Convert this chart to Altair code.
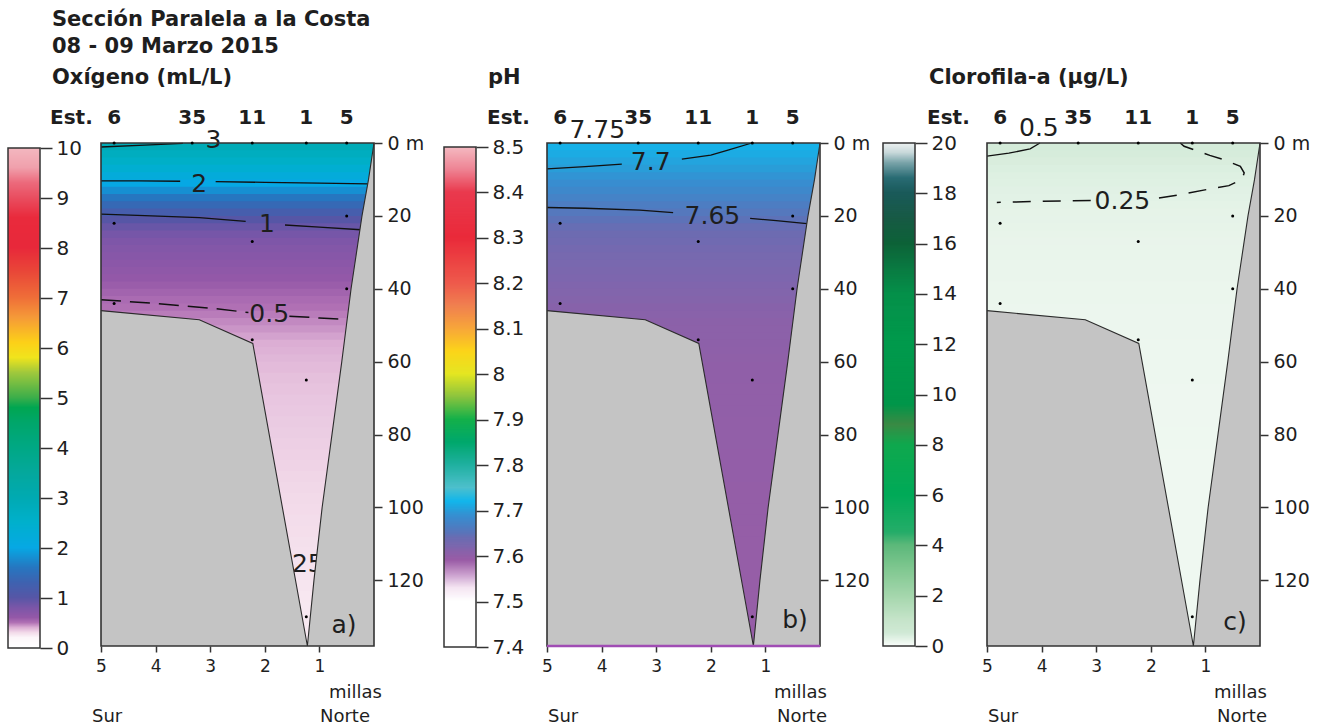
import altair as alt
import pandas as pd

FONT = "DejaVu Sans"
INK = "#1e1e1e"

# ---------------- texts ----------------
TITLE_LINES = ["Sección Paralela a la Costa", "08 - 09 Marzo 2015"]
VAR_NAMES = ["Oxígeno (mL/L)", "pH", "Clorofila-a (µg/L)"]
PANEL_TAGS = ["a)", "b)", "c)"]
EST_LABEL = "Est."
UNIT_NOTE = "millas"
SOUTH = "Sur"
NORTH = "Norte"

# ---------------- stations / samples ----------------
STATIONS = ["6", "35", "11", "1", "5"]
STATION_MILES = [4.76, 3.33, 2.23, 1.24, 0.5]
SAMPLE_STATION = ["6", "6", "6", "35", "11", "11", "11", "1", "1", "1", "5", "5", "5"]
SAMPLE_DEPTH = [0, 22, 44, 0, 0, 27, 54, 0, 65, 130, 0, 20, 40]

MILE_TICKS = [5, 4, 3, 2, 1]
DEPTH_TICKS = [0, 20, 40, 60, 80, 100, 120]
MAX_DEPTH = 138
MAX_MILE = 5

# sea floor profile (miles, depth m)
BOTTOM_MILES = [5, 3.2, 2.22, 1.22, 1.1, 0.95, 0.77, 0.59, 0.42, 0.22, 0.1, 0]
BOTTOM_DEPTH = [46, 48.5, 55, 138, 120, 100, 80, 60, 40, 20, 10, 0]

# ---------------- field bands (depth edges, values read per band) ----------------
BAND_EDGES = [0, 2, 4, 6, 8, 10, 12, 14, 16, 18, 20, 22, 24, 26, 28, 30, 32, 34, 36, 38,
              40, 42, 44, 46, 48, 50, 52, 54, 56, 58, 60, 63, 66, 69, 72, 75, 78, 81, 84,
              87, 90, 93, 96, 99, 102, 105, 108, 111, 114, 117, 120, 123, 126, 129, 132,
              135, 138]
OXY_BANDS = [2.9, 2.75, 2.6, 2.4, 2.2, 2.0, 1.8, 1.6, 1.4, 1.2, 1.0, 0.9, 0.82, 0.77, 0.73,
             0.7, 0.67, 0.64, 0.61, 0.58, 0.55, 0.52, 0.5, 0.48, 0.46, 0.44, 0.42, 0.4, 0.39,
             0.38,
             0.37, 0.36, 0.352, 0.345, 0.34, 0.335, 0.33, 0.325, 0.32, 0.315, 0.31, 0.305,
             0.3, 0.295, 0.29, 0.285, 0.28, 0.275, 0.27, 0.265, 0.26, 0.255, 0.25, 0.247,
             0.244, 0.24]
PH_BANDS = [7.716, 7.711, 7.705, 7.699, 7.693, 7.686, 7.679, 7.671, 7.663, 7.655, 7.648,
            7.642, 7.637, 7.633, 7.629, 7.626, 7.623, 7.621, 7.619, 7.617, 7.615, 7.613,
            7.611, 7.609, 7.607, 7.606, 7.605, 7.604, 7.603, 7.602,
            7.601, 7.601, 7.6, 7.6, 7.6, 7.599, 7.599, 7.599, 7.598, 7.598, 7.598, 7.597,
            7.597, 7.597, 7.597, 7.596, 7.596, 7.596, 7.596, 7.595, 7.595, 7.595, 7.595,
            7.595, 7.594, 7.594]
CHL_BANDS = [0.45, 0.42, 0.39, 0.36, 0.33, 0.31, 0.29, 0.27, 0.25, 0.23, 0.22, 0.21, 0.2,
             0.19, 0.185, 0.18, 0.175, 0.17, 0.165, 0.16, 0.16, 0.155, 0.15, 0.15, 0.145,
             0.14, 0.14, 0.135, 0.13, 0.13,
             0.127, 0.124, 0.121, 0.118, 0.115, 0.113, 0.111, 0.109, 0.107, 0.105, 0.103,
             0.101, 0.1, 0.1, 0.1, 0.1, 0.1, 0.1, 0.1, 0.1, 0.1, 0.1, 0.1, 0.1, 0.1, 0.1]

# ---------------- colour scales ----------------
OXY_STOPS = [0, 0.2, 0.3, 0.4, 0.5, 0.6, 0.8, 1.0, 1.3, 1.6, 2.0, 2.5, 3.0, 3.5, 4.0, 4.5,
             4.8, 5.0, 5.5, 5.8, 6.1, 6.6, 7.0, 7.5, 8.0, 8.6, 9.0, 9.3, 9.6, 10]
OXY_COLORS = ["#ffffff", "#fcf6f9", "#f2dae9", "#dcaed4", "#b070b4", "#9458a8", "#7a56a8",
              "#5656a6", "#3e62b0", "#2676c0", "#06a8e4", "#00b0cc", "#00aab2", "#04a89c",
              "#00a884", "#00a66a", "#00a651", "#3cae4a", "#a0c83c", "#f0e41c", "#fcd018",
              "#f59a38", "#ef6e38", "#e94838", "#e8283a", "#e92a3c", "#e94e60", "#ec6a7c",
              "#f0a0ac", "#f3b8c0"]
OXY_TICKS = [0, 1, 2, 3, 4, 5, 6, 7, 8, 9, 10]

PH_STOPS = [7.4, 7.5, 7.53, 7.56, 7.59, 7.6, 7.61, 7.62, 7.64, 7.65, 7.67, 7.69, 7.7, 7.72,
            7.75, 7.8, 7.85, 7.9, 7.95, 8.0, 8.05, 8.1, 8.15, 8.2, 8.3, 8.4, 8.45, 8.5]
PH_COLORS = ["#ffffff", "#ffffff", "#f4e4f2", "#c89ccc", "#9a5ca6", "#915fa8", "#8862aa",
             "#7c67ae", "#6a6cb2", "#5a74ba", "#4682c6", "#3590d2", "#289ed9", "#12b6ec",
             "#4ec0cc", "#20b0a0", "#00a86c", "#14b04a", "#8cc43e", "#e4e622", "#fcd41a",
             "#f7a63a", "#f08050", "#ee5a4c", "#ea2a3a", "#ea3a4e", "#ee8494", "#f4bac2"]
PH_TICKS = [7.4, 7.5, 7.6, 7.7, 7.8, 7.9, 8.0, 8.1, 8.2, 8.3, 8.4, 8.5]

CHL_STOPS = [0, 0.1, 0.2, 0.3, 0.5, 1, 2, 3, 4, 4.5, 6, 8, 8.8, 9.6, 12, 14, 15, 16, 17, 18,
             18.6, 19.2, 19.6, 20]
CHL_COLORS = ["#f8fcf9", "#eff8f1", "#e8f4ea", "#e0f1e4", "#d0e9d5", "#c6e4ca", "#a4d6ac",
              "#82c892", "#5cb87a", "#26ad69", "#00aa58", "#10a84e", "#3a8a44", "#00964a",
              "#009a4c", "#05904a", "#0a7a42", "#0d6238", "#185a45", "#1a5a5a", "#2a6c74",
              "#7aa4aa", "#c8d8da", "#eef2f2"]
CHL_TICKS = [0, 2, 4, 6, 8, 10, 12, 14, 16, 18, 20]

# ---------------- contour lines (segment, dashed, miles, depths) ----------------
A_CONTOURS = [
    ("a3", False, [5, 4.2, 3.5], [1.1, 0.6, 0.1]),
    ("a2l", False, [5, 4.3, 3.55], [10.4, 10.4, 10.5]),
    ("a2r", False, [2.9, 2.0, 1.0, 0.11], [10.6, 10.8, 11.0, 11.2]),
    ("a1l", False, [5, 4.2, 3.2, 2.35], [19.5, 19.9, 20.5, 21.5]),
    ("a1r", False, [1.63, 1.0, 0.24], [22.5, 23.1, 23.8]),
    ("a05l", True, [5, 4.0, 3.0, 2.3], [43.0, 44.0, 45.3, 46.5]),
    ("a05r", True, [1.55, 1.0, 0.5], [47.5, 48.0, 48.4]),
]
A_LABEL_TEXT = ["3", "2", "1", "0.5", "0.25"]
A_LABEL_MILE = [2.94, 3.2, 1.96, 1.92, 1.43]
A_LABEL_DEPTH = [-0.8, 11.2, 22.3, 47.0, 115.6]

B_CONTOURS = [
    ("b77l", False, [5, 4.3, 3.63], [7.1, 6.5, 5.8]),
    ("b77r", False, [2.53, 2.0, 1.67, 1.25], [4.4, 3.3, 1.9, 0.0]),
    ("b765l", False, [5, 4.3, 3.3, 2.69], [17.7, 17.9, 18.4, 19.1]),
    ("b765r", False, [1.28, 0.8, 0.24], [20.7, 21.3, 22.1]),
]
B_LABEL_TEXT = ["7.75", "7.7", "7.65"]
B_LABEL_MILE = [4.08, 3.10, 1.97]
B_LABEL_DEPTH = [-3.7, 5.2, 20.1]

C_CONTOURS = [
    ("c05", False, [5, 4.6, 4.21, 4.03], [3.6, 2.8, 1.6, 0.0]),
    ("c025r", True, [1.85, 1.4, 0.92, 0.57, 0.33, 0.29, 0.36, 0.66, 0.92, 1.39, 1.46],
     [15.1, 14.0, 12.6, 11.7, 10.0, 8.2, 6.4, 4.6, 3.4, 0.9, 0.0]),
    ("c025l", True, [3.1, 4.0, 4.82], [15.8, 16.0, 16.3]),
]
C_LABEL_TEXT = ["0.5", "0.25"]
C_LABEL_MILE = [4.05, 2.52]
C_LABEL_DEPTH = [-4.1, 15.8]

# ---------------- layout ----------------
PX_PER_MILE = 54.6
FIELD_W = 273
SEC_H = 503


def text_at(txt, x, y, size, bold=False, align="left"):
    return alt.Chart(alt.Data(values=[{"t": txt}])).mark_text(
        align=align, baseline="alphabetic", font=FONT, fontSize=size,
        fontWeight="bold" if bold else "normal", color=INK,
    ).encode(text="t:N", x=alt.value(x), y=alt.value(y))


def colorbar(stops, colors, lo, hi, top, step, ticks, width, height):
    cscale = alt.Scale(domain=stops, range=colors, interpolate="rgb", clamp=True)
    ysc = alt.Scale(domain=[lo, top], nice=False, zero=False)
    ax = alt.Axis(orient="right", values=ticks, domain=False, grid=False, tickSize=12,
                  tickWidth=1.5, tickColor="#333333", labelFont=FONT, labelFontSize=20,
                  labelColor=INK, labelPadding=4, format="~r", title=None)
    base = alt.Chart(alt.sequence(lo, hi, step, as_="v")).transform_calculate(
        v2=f"min(datum.v + {step * 4}, {hi})")
    bar = base.mark_rect().encode(
        x=alt.value(width - 32), x2=alt.value(width),
        y=alt.Y("v:Q", scale=ysc, axis=ax), y2="v2:Q",
        color=alt.Color("v:Q", scale=cscale, legend=None))
    frame = base.transform_aggregate(a="min(v)", b="max(v2)").mark_rect(
        fillOpacity=0, stroke="#333333", strokeWidth=1.5).encode(
        x=alt.value(width - 32), x2=alt.value(width),
        y=alt.Y("a:Q", scale=ysc, axis=ax), y2="b:Q")
    return alt.layer(bar, frame).properties(width=width, height=height)


def section(bands, stops, colors, contours, lab_t, lab_m, lab_d, dash, extra_px, texts,
            purple_floor=False):
    width = FIELD_W + extra_px
    cscale = alt.Scale(domain=stops, range=colors, interpolate="rgb", clamp=True)
    xsc = alt.Scale(domain=[MAX_MILE + extra_px / PX_PER_MILE, 0], nice=False, zero=False)
    ysc = alt.Scale(domain=[0, MAX_DEPTH], reverse=True, nice=False, zero=False)
    x_axis = alt.Axis(orient="bottom", values=MILE_TICKS, domain=False, grid=False, tickSize=6,
                      tickWidth=1.5, tickColor="#333333", labelFont=FONT, labelFontSize=17,
                      labelColor=INK, labelPadding=6, labelFlush=False, format="d", title=None)
    y_axis = alt.Axis(orient="right", values=DEPTH_TICKS, domain=False, grid=False, tickSize=8,
                      tickWidth=1.5, tickColor="#333333", labelFont=FONT, labelFontSize=19,
                      labelColor=INK, labelPadding=5,
                      labelExpr="datum.value == 0 ? '0 m' : datum.label", title=None)

    def X(f):
        return alt.X(f, scale=xsc, axis=x_axis)

    def Y(f):
        return alt.Y(f, scale=ysc, axis=y_axis)

    layers = []
    field_df = pd.DataFrame({"top": BAND_EDGES[:-1], "bot": BAND_EDGES[1:], "v": bands})
    layers.append(alt.Chart(field_df).transform_calculate(
        bot2=f"min(datum.bot + 0.4, {MAX_DEPTH})").mark_rect().encode(
        x=alt.XDatum(MAX_MILE, scale=xsc, axis=x_axis), x2=alt.X2Datum(0),
        y=Y("top:Q"), y2="bot2:Q",
        color=alt.Color("v:Q", scale=cscale, legend=None)))

    rows = []
    for seg, dashed, ms, ds in contours:
        for i, (m, d) in enumerate(zip(ms, ds)):
            rows.append({"seg": seg, "dashed": dashed, "i": i, "m": m, "d": d})
    cdf = pd.DataFrame(rows)
    solid = cdf[~cdf["dashed"]]
    dashed = cdf[cdf["dashed"]]
    if len(solid):
        layers.append(alt.Chart(solid).mark_line(color="#111111", strokeWidth=1.3).encode(
            x=X("m:Q"), y=Y("d:Q"), detail="seg:N", order="i:Q"))
    if len(dashed):
        layers.append(alt.Chart(dashed).mark_line(color="#111111", strokeWidth=1.5,
                                                  strokeDash=dash).encode(
            x=X("m:Q"), y=Y("d:Q"), detail="seg:N", order="i:Q"))

    ldf = pd.DataFrame({"t": lab_t, "m": lab_m, "d": lab_d})
    layers.append(alt.Chart(ldf).mark_text(font=FONT, fontSize=25, color=INK,
                                           baseline="middle").encode(
        x=X("m:Q"), y=Y("d:Q"), text="t:N"))

    bdf = pd.DataFrame({"m": BOTTOM_MILES, "d": BOTTOM_DEPTH, "i": list(range(len(BOTTOM_MILES)))})
    layers.append(alt.Chart(bdf).mark_area(color="#c4c4c4", orient="vertical", opacity=1).encode(
        x=X("m:Q"), y=Y("d:Q"), y2=alt.Y2Datum(MAX_DEPTH)))
    layers.append(alt.Chart(bdf).mark_line(color="#2b2b2b", strokeWidth=1.1).encode(
        x=X("m:Q"), y=Y("d:Q"), order="i:Q"))

    layers.append(alt.Chart(field_df).transform_aggregate(lo="min(top)", hi="max(bot)").mark_rect(
        fillOpacity=0, stroke="#333333", strokeWidth=1.6).encode(
        x=alt.XDatum(MAX_MILE, scale=xsc, axis=x_axis), x2=alt.X2Datum(0),
        y=Y("lo:Q"), y2="hi:Q"))
    if purple_floor:
        layers.append(alt.Chart(field_df).transform_aggregate(hi="max(bot)").mark_rule(
            color="#a04cb4", strokeWidth=2.5).encode(
            x=alt.XDatum(MAX_MILE, scale=xsc, axis=x_axis), x2=alt.X2Datum(0),
            y=Y("hi:Q")))

    sdf = pd.DataFrame({"m": [STATION_MILES[STATIONS.index(s)] for s in SAMPLE_STATION],
                        "d": SAMPLE_DEPTH})
    layers.append(alt.Chart(sdf).mark_circle(size=9, color="#000000", opacity=1).encode(
        x=X("m:Q"), y=Y("d:Q")))

    stdf = pd.DataFrame({"name": STATIONS, "m": STATION_MILES})
    layers.append(alt.Chart(stdf).mark_text(font=FONT, fontSize=20, fontWeight="bold",
                                            baseline="alphabetic", color=INK).encode(
        x=X("m:Q"), y=alt.value(-19), text="name:N"))

    layers.extend(texts)
    return alt.layer(*layers).properties(width=width, height=SEC_H)


def panel_texts(var_name, var_x, est_x, sur_x, norte_x, millas_x, tag, tag_x, tag_y):
    return [
        text_at(var_name, var_x, -59, 21, bold=True),
        text_at(EST_LABEL, est_x, -19, 20, bold=True),
        text_at(SOUTH, sur_x, 579, 18),
        text_at(NORTH, norte_x, 579, 18, align="right"),
        text_at(UNIT_NOTE, millas_x, 555, 18, align="right"),
        text_at(tag, tag_x, tag_y, 25, align="center"),
    ]


texts_a = [text_at(TITLE_LINES[0], -49, -117, 21, bold=True),
           text_at(TITLE_LINES[1], -49, -90, 21, bold=True)] + \
    panel_texts(VAR_NAMES[0], -49, -51, -9, 269, 281, PANEL_TAGS[0], 243, 490)
texts_b = panel_texts(VAR_NAMES[1], -49, -50, 11, 290, 290, PANEL_TAGS[1], 258, 485)
texts_c = panel_texts(VAR_NAMES[2], -47, -49, 12, 291, 291, PANEL_TAGS[2], 259, 487)

cb_a = colorbar(OXY_STOPS, OXY_COLORS, 0, 10, 10.1, 0.02, OXY_TICKS, 32, 505)
sec_a = section(OXY_BANDS, OXY_STOPS, OXY_COLORS, A_CONTOURS, A_LABEL_TEXT, A_LABEL_MILE,
                A_LABEL_DEPTH, [20, 9], 0, texts_a)
cb_b = colorbar(PH_STOPS, PH_COLORS, 7.4, 8.5, 8.5088, 0.002, PH_TICKS, 41, 504)
sec_b = section(PH_BANDS, PH_STOPS, PH_COLORS, B_CONTOURS, B_LABEL_TEXT, B_LABEL_MILE,
                B_LABEL_DEPTH, [20, 9], 10, texts_b, purple_floor=True)
cb_c = colorbar(CHL_STOPS, CHL_COLORS, 0, 20, 20, 0.04, CHL_TICKS, 34, 503)
sec_c = section(CHL_BANDS, CHL_STOPS, CHL_COLORS, C_CONTOURS, C_LABEL_TEXT, C_LABEL_MILE,
                C_LABEL_DEPTH, [18, 12], 11, texts_c)

chart = alt.hconcat(cb_a, sec_a, cb_b, sec_b, cb_c, sec_c, spacing=61, bounds="flush").resolve_scale(
    color="independent", x="independent", y="independent"
).properties(
    padding={"left": 7, "top": 9, "right": 0, "bottom": 0}, background="white"
).configure_view(stroke=None)

chart.save("out.html", embed_options={"renderer": "svg", "actions": False})
